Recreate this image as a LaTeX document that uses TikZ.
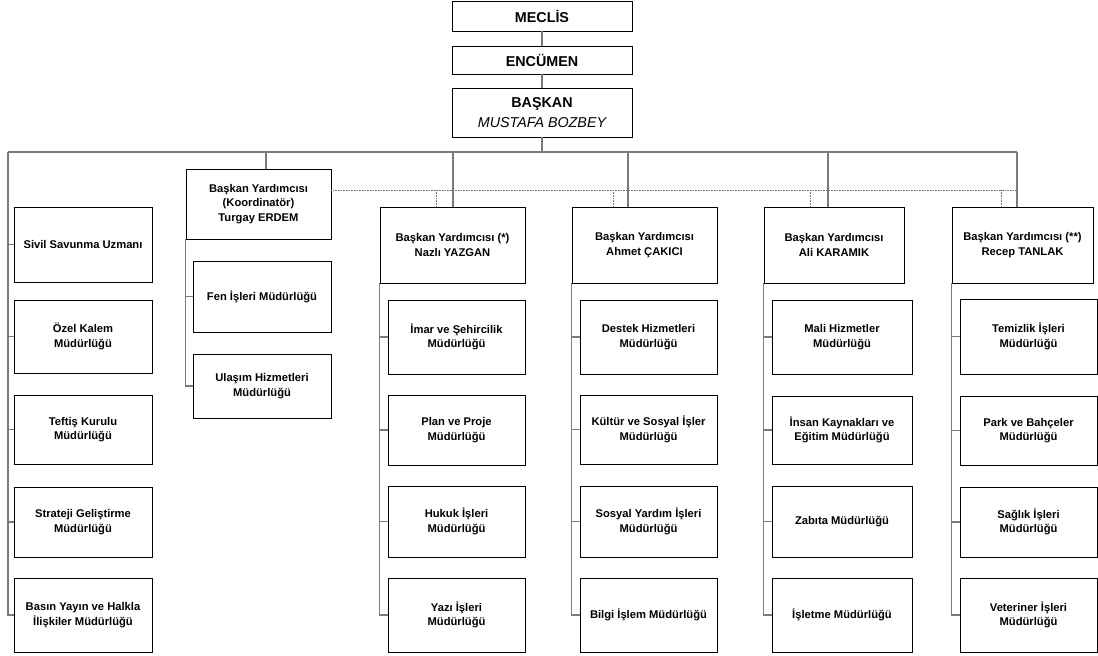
\documentclass[tikz,border=0pt]{standalone}
\usepackage{fontspec}
\setmainfont{Liberation Sans}
\tikzset{
  box/.style={draw=black, line width=0.9pt, fill=white, inner sep=0pt, align=center,
    font=\bfseries\fontsize{11.2}{14.5}\selectfont},
  topbox/.style={box, font=\bfseries\fontsize{14.3}{19.5}\selectfont},
  conn/.style={draw=black!52, line width=1.8pt},
  dotc/.style={draw=black!55, line width=0.6pt, dash pattern=on 0.7pt off 0.9pt},
}
\newcommand\ob[7]{\node[#1, minimum width={#5pt-#3pt}, minimum height={#6pt-#4pt}] (#2) at ({(#3+#5)/2},{(#4+#6)/2}) {#7};}
\begin{document}
\begin{tikzpicture}[x=1pt,y=-1pt]
\useasboundingbox (0,0) rectangle (1098,656);
% top
\ob{topbox}{meclis}{452}{1}{632}{31}{MECLİS}
\ob{topbox}{encumen}{452}{46}{632}{74}{ENCÜMEN}
\ob{topbox}{baskan}{452}{88}{632}{137}{BAŞKAN\\{\mdseries\itshape MUSTAFA BOZBEY}}
% left column
\ob{box}{sivil}{14}{207}{152}{282}{Sivil Savunma Uzmanı}
\ob{box}{ozel}{14}{300}{152}{373}{Özel Kalem\\Müdürlüğü}
\ob{box}{teftis}{14}{395}{152}{464}{Teftiş Kurulu\\Müdürlüğü}
\ob{box}{strateji}{14}{487}{152}{557}{Strateji Geliştirme\\Müdürlüğü}
\ob{box}{basin}{14}{578}{152}{652}{Basın Yayın ve Halkla\\İlişkiler Müdürlüğü}
% coordinator
\ob{box}{koord}{186}{169}{331}{239}{Başkan Yardımcısı\\(Koordinatör)\\Turgay ERDEM}
\ob{box}{fen}{193}{261}{331}{332}{Fen İşleri Müdürlüğü}
\ob{box}{ulasim}{193}{354}{331}{418}{Ulaşım Hizmetleri\\Müdürlüğü}
% Nazli
\ob{box}{nazli}{380}{207}{525}{283}{Başkan Yardımcısı (*)\\Nazlı YAZGAN}
\ob{box}{imar}{388}{300}{525}{374}{İmar ve Şehircilik\\Müdürlüğü}
\ob{box}{plan}{388}{395}{525}{465}{Plan ve Proje\\Müdürlüğü}
\ob{box}{hukuk}{388}{486}{525}{557}{Hukuk İşleri\\Müdürlüğü}
\ob{box}{yazi}{388}{578}{525}{652}{Yazı İşleri\\Müdürlüğü}
% Ahmet
\ob{box}{ahmet}{572}{207}{717}{283}{Başkan Yardımcısı\\Ahmet ÇAKICI}
\ob{box}{destek}{580}{300}{717}{374}{Destek Hizmetleri\\Müdürlüğü}
\ob{box}{kultur}{580}{395}{717}{464}{Kültür ve Sosyal İşler\\Müdürlüğü}
\ob{box}{sosyal}{580}{486}{717}{557}{Sosyal Yardım İşleri\\Müdürlüğü}
\ob{box}{bilgi}{580}{578}{717}{652}{Bilgi İşlem Müdürlüğü}
% Ali
\ob{box}{ali}{764}{207}{904}{283}{Başkan Yardımcısı\\Ali KARAMIK}
\ob{box}{mali}{772}{300}{912}{374}{Mali Hizmetler\\Müdürlüğü}
\ob{box}{insan}{772}{396}{912}{464}{İnsan Kaynakları ve\\Eğitim Müdürlüğü}
\ob{box}{zabita}{772}{486}{912}{557}{Zabıta Müdürlüğü}
\ob{box}{isletme}{772}{578}{912}{652}{İşletme Müdürlüğü}
% Recep
\ob{box}{recep}{952}{207}{1093}{283}{Başkan Yardımcısı (**)\\Recep TANLAK}
\ob{box}{temizlik}{960}{299}{1097}{374}{Temizlik İşleri\\Müdürlüğü}
\ob{box}{park}{960}{396}{1097}{465}{Park ve Bahçeler\\Müdürlüğü}
\ob{box}{saglik}{960}{487}{1097}{557}{Sağlık İşleri\\Müdürlüğü}
\ob{box}{veteriner}{960}{578}{1097}{652}{Veteriner İşleri\\Müdürlüğü}
% junction coordinates
\coordinate (L) at (8,152);
\coordinate (R) at (1017,152);
\coordinate (dK) at (266,152);
\coordinate (dN) at (453,152);
\coordinate (dA) at (628,152);
\coordinate (dAl) at (828,152);
\coordinate (DL) at (331,190);
\coordinate (DR) at (1017,190);
\coordinate (pN) at (436,190);
\coordinate (pA) at (613,190);
\coordinate (pAl) at (810,190);
\coordinate (pR) at (1001,190);
% dotted links
\draw[dotc] (koord.east |- DL) -- (DR);
\foreach \p/\b in {pN/nazli,pA/ahmet,pAl/ali,pR/recep}
  \draw[dotc] (\p) -- (\p |- \b.north);
% top chain
\draw[conn] (meclis.south) -- (encumen.north);
\draw[conn] (encumen.south) -- (baskan.north);
\draw[conn] (baskan.south) -- (baskan.south |- L);
\draw[conn] (L) -- (R);
\draw[conn] (dK) -- (dK |- koord.north);
\draw[conn] (dN) -- (dN |- nazli.north);
\draw[conn] (dA) -- (dA |- ahmet.north);
\draw[conn] (dAl) -- (dAl |- ali.north);
\draw[conn] (R) -- (R |- recep.north);
% left column
\draw[conn] (L) |- (basin.west);
\foreach \b in {sivil,ozel,teftis,strateji}
  \draw[conn] (L |- \b.west) -- (\b.west);
% coordinator column
\draw[conn] (koord.south west) |- (ulasim.west);
\draw[conn] (koord.south west |- fen.west) -- (fen.west);
% Nazli
\draw[conn] (nazli.south west) |- (yazi.west);
\foreach \b in {imar,plan,hukuk}
  \draw[conn] (nazli.south west |- \b.west) -- (\b.west);
% Ahmet
\draw[conn] (ahmet.south west) |- (bilgi.west);
\foreach \b in {destek,kultur,sosyal}
  \draw[conn] (ahmet.south west |- \b.west) -- (\b.west);
% Ali
\draw[conn] (ali.south west) |- (isletme.west);
\foreach \b in {mali,insan,zabita}
  \draw[conn] (ali.south west |- \b.west) -- (\b.west);
% Recep
\draw[conn] (recep.south west) |- (veteriner.west);
\foreach \b in {temizlik,park,saglik}
  \draw[conn] (recep.south west |- \b.west) -- (\b.west);
\end{tikzpicture}
\end{document}
